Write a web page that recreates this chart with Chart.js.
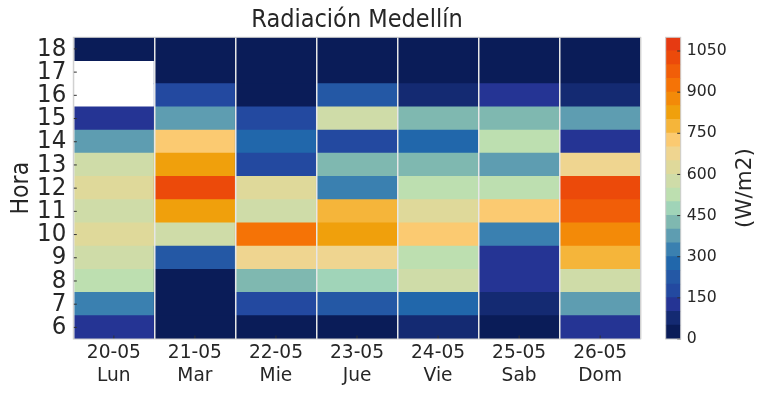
<!DOCTYPE html>
<html>
<head>
<meta charset="utf-8">
<script src="https://cdn.jsdelivr.net/npm/chart.js@4.4.1/dist/chart.umd.min.js"></script>
<style>
  html, body { margin: 0; padding: 0; background: #fff; }
  #lienzo { position: relative; width: 767px; height: 395px; }
  #lienzo canvas { position: absolute; left: 0; top: 0; }
</style>
</head>
<body>
<div id="lienzo">
  <canvas id="mapa" width="767" height="395"></canvas>
  <canvas id="barra" width="767" height="395"></canvas>
</div>
<script>
// datos (W/m2), horas 6 a 18
const dias = ["20-05", "21-05", "22-05", "23-05", "24-05", "25-05", "26-05"];
const nombresDias = ["Lun", "Mar", "Mie", "Jue", "Vie", "Sab", "Dom"];
const horas = [6, 7, 8, 9, 10, 11, 12, 13, 14, 15, 16, 17, 18];

const rad2005 = [128, 318, 531, 584, 617, 572, 641, 566, 372, 109, null, null, 12];
const rad2105 = [4, 9, 38, 226, 563, 812, 1018, 836, 724, 371, 163, 27, 3];
const rad2205 = [6, 174, 431, 668, 912, 577, 629, 182, 281, 157, 41, 18, 2];
const rad2305 = [11, 238, 464, 681, 829, 781, 334, 418, 166, 587, 219, 33, 3];
const rad2405 = [62, 273, 569, 527, 716, 633, 542, 426, 289, 412, 74, 22, 2];
const rad2505 = [36, 88, 137, 124, 322, 738, 518, 381, 523, 437, 119, 28, 2];
const rad2605 = [104, 366, 578, 764, 873, 968, 1022, 677, 131, 383, 67, 19, 1];

const niveles = [0, 50, 100, 150, 200, 250, 300, 350, 400, 450, 500, 550,
                 600, 650, 700, 750, 800, 850, 900, 950, 1000, 1050, 1100];
const ticksBarra = [0, 150, 300, 450, 600, 750, 900, 1050];

// estilo
const paleta = ["#0a1c58", "#142a72", "#253494", "#2349a0", "#2458a5", "#2167ab",
  "#3a80b0", "#5e9db1", "#7fb8b0", "#a0d4b8", "#bddfb0", "#cfdca8", "#dfd99a",
  "#efd590", "#fbca71", "#f5b53a", "#f0a00c", "#f38a08", "#f57306", "#f15e08",
  "#ec4a0a", "#e63a12"];
const fuente = "'DejaVu Sans', sans-serif";
const fuenteAngosta = "'DejaVu Sans Condensed', 'DejaVu Sans', sans-serif";
const fuenteNarrow = "'Liberation Sans Narrow', 'DejaVu Sans Condensed', sans-serif";
const texto = "#262626";

const valores = [rad2005, rad2105, rad2205, rad2305, rad2405, rad2505, rad2605];

function colorDe(v) {
  if (v === null) return "rgba(0,0,0,0)";
  let k = 0;
  while (k < paleta.length - 1 && v >= niveles[k + 1]) k++;
  return paleta[k];
}

function linea(ctx, x1, y1, x2, y2) {
  ctx.beginPath();
  ctx.moveTo(x1, y1);
  ctx.lineTo(x2, y2);
  ctx.stroke();
}

const marcoMapa = {
  id: "marcoMapa",
  afterDraw(chart) {
    const { ctx, chartArea: a, scales } = chart;
    ctx.save();
    ctx.strokeStyle = "#333";
    ctx.lineWidth = 1;
    scales.y.ticks.forEach(t => {
      const p = scales.y.getPixelForValue(t.value);
      linea(ctx, a.left, p, a.left + 3.5, p);
    });
    scales.x.ticks.forEach((t, i) => {
      const p = scales.x.getPixelForTick(i);
      linea(ctx, p, a.bottom, p, a.bottom - 3.5);
    });
    ctx.strokeStyle = "#cccccc";
    ctx.strokeRect(a.left, a.top, a.right - a.left, a.bottom - a.top);
    ctx.restore();
  }
};

const datasets = horas.map((h, i) => ({
  label: h + "h",
  data: valores.map(col => col[i] === null ? null : [h - 0.5, h + 0.5]),
  backgroundColor: valores.map(col => colorDe(col[i])),
  borderWidth: 0,
  inflateAmount: 0.5,
  barPercentage: 1,
  categoryPercentage: 1,
  grouped: false
}));

new Chart(document.getElementById("mapa"), {
  type: "bar",
  data: {
    labels: dias.map((d, i) => [d, nombresDias[i]]),
    datasets: datasets
  },
  options: {
    responsive: false,
    animation: false,
    layout: { padding: { left: 0, right: 126.3, top: 0, bottom: 0 } },
    plugins: {
      legend: { display: false },
      tooltip: { enabled: false },
      title: {
        display: true,
        fullSize: false,
        text: "Radiación Medellín",
        color: texto,
        font: { family: fuenteAngosta, size: 25, weight: "normal" },
        padding: { top: 5, bottom: 2.3 }
      }
    },
    scales: {
      x: {
        type: "category",
        offset: true,
        grid: { display: true, offset: true, drawTicks: false, color: "#e6e6e6", lineWidth: 1.5, z: 1 },
        border: { display: false },
        ticks: {
          color: texto,
          font: { family: fuente, size: 18.6, lineHeight: 1.2 },
          padding: 3.5,
          maxRotation: 0,
          autoSkip: false
        },
        afterFit: s => { s.height = 56; }
      },
      y: {
        type: "linear",
        min: 5.5,
        max: 18.5,
        afterBuildTicks: s => { s.ticks = horas.map(h => ({ value: h })); },
        afterFit: s => { s.width = 73.3; },
        grid: { display: false, drawTicks: false },
        border: { display: false },
        ticks: { color: texto, font: { family: fuenteNarrow, size: 25.5 }, padding: 7, autoSkip: false },
        title: {
          display: true,
          text: "Hora",
          color: texto,
          font: { family: fuenteAngosta, size: 24.5 },
          padding: { top: 7, bottom: 0 }
        }
      }
    }
  },
  plugins: [marcoMapa]
});

// barra de colores
const marcoBarra = {
  id: "marcoBarra",
  afterDraw(chart) {
    const { ctx, chartArea: a, scales } = chart;
    ctx.save();
    ctx.strokeStyle = "#333";
    ctx.lineWidth = 1;
    scales.y.ticks.forEach(t => {
      const p = scales.y.getPixelForValue(t.value);
      linea(ctx, a.right - 3.5, p, a.right, p);
    });
    ctx.strokeStyle = "#cccccc";
    ctx.strokeRect(a.left, a.top, a.right - a.left, a.bottom - a.top);
    ctx.translate(745, (a.top + a.bottom) / 2);
    ctx.rotate(-Math.PI / 2);
    ctx.fillStyle = texto;
    ctx.font = "21.5px " + fuente;
    ctx.textAlign = "center";
    ctx.textBaseline = "middle";
    ctx.fillText("(W/m2)", 0, 0);
    ctx.restore();
  }
};

new Chart(document.getElementById("barra"), {
  type: "bar",
  data: {
    labels: [""],
    datasets: paleta.map((c, k) => ({
      data: [[niveles[k], niveles[k + 1]]],
      backgroundColor: c,
      borderWidth: 0,
      inflateAmount: 0.5,
      barPercentage: 1,
      categoryPercentage: 1,
      grouped: false
    }))
  },
  options: {
    responsive: false,
    animation: false,
    layout: { padding: { left: 665.7, right: 0, top: 37.3, bottom: 56 } },
    plugins: { legend: { display: false }, tooltip: { enabled: false } },
    scales: {
      x: { display: false },
      y: {
        position: "right",
        min: 0,
        max: 1100,
        afterBuildTicks: s => { s.ticks = ticksBarra.map(v => ({ value: v })); },
        afterFit: s => { s.width = 86.3; },
        grid: { display: false, drawTicks: false },
        border: { display: false },
        ticks: {
          color: texto,
          font: { family: fuente, size: 15.7 },
          padding: 6,
          callback: v => String(v)
        }
      }
    }
  },
  plugins: [marcoBarra]
});
</script>
</body>
</html>
